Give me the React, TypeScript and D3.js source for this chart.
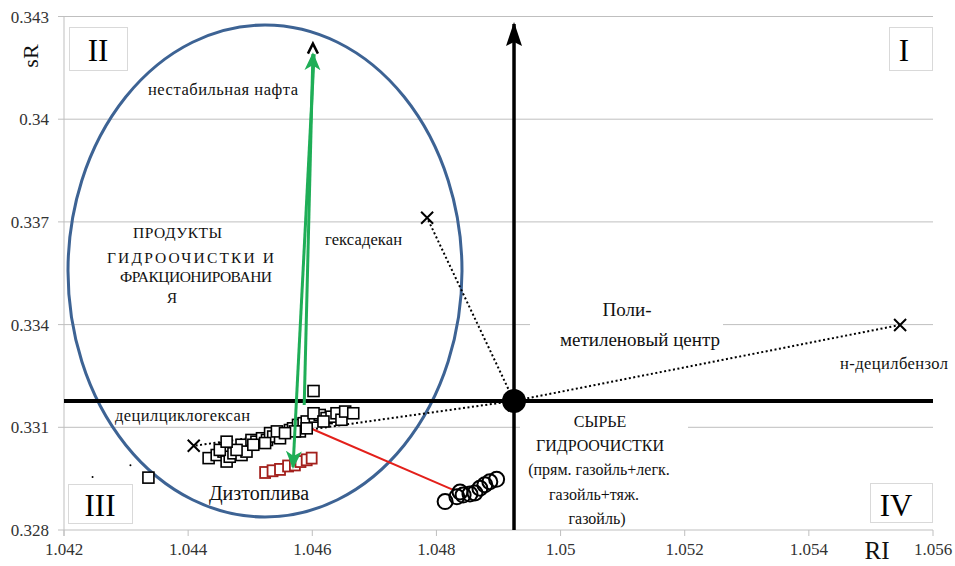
import React from "react";
import * as d3 from "d3";

const W = 955, H = 566;
const xTicks = [1.042, 1.044, 1.046, 1.048, 1.05, 1.052, 1.054, 1.056];
const yTicks = [0.328, 0.331, 0.334, 0.337, 0.34, 0.343];
const xTickLabels = ["1.042", "1.044", "1.046", "1.048", "1.05", "1.052", "1.054", "1.056"];
const yTickLabels = ["0.328", "0.331", "0.334", "0.337", "0.34", "0.343"];

// polymethylene center
const center: [number, number] = [1.04925, 0.33177];
// pure compounds (crosses)
const crosses: { name: string; ri: number; sr: number }[] = [
  { name: "гексадекан", ri: 1.04785, sr: 0.33712 },
  { name: "н-децилбензол", ri: 1.05547, sr: 0.33399 },
  { name: "децилциклогексан", ri: 1.04409, sr: 0.33046 },
];
const naphtha: [number, number] = [1.04601, 0.34212];

// hydrotreating & fractionation products (black squares)
const productsRI = [1.04433, 1.04446, 1.04457, 1.04462, 1.04459, 1.04467, 1.04473, 1.04486, 1.04486, 1.04494, 1.04502, 1.0451, 1.04519, 1.04527, 1.04532, 1.04537, 1.04548, 1.04543, 1.04564, 1.04569, 1.04577, 1.04586, 1.0458, 1.04591, 1.04604, 1.04612, 1.04623, 1.04631, 1.04639, 1.04647, 1.04653, 1.04666, 1.04602, 1.04618, 1.04591, 1.04572, 1.04556, 1.04524, 1.04505, 1.04478, 1.04451, 1.04462, 1.04602, 1.04336];
const productsSR = [0.3301, 0.33019, 0.33029, 0.33, 0.33039, 0.33014, 0.33024, 0.33049, 0.33019, 0.33029, 0.33063, 0.33058, 0.33068, 0.33063, 0.33083, 0.33073, 0.33068, 0.33088, 0.33092, 0.33097, 0.33107, 0.33112, 0.33088, 0.33117, 0.33131, 0.33136, 0.33127, 0.33131, 0.33141, 0.33122, 0.33146, 0.33141, 0.33141, 0.33117, 0.33097, 0.33088, 0.33083, 0.33054, 0.33049, 0.33034, 0.33034, 0.33058, 0.33206, 0.32953];
// diesel fuels (red squares)
const dieselRI = [1.04524, 1.04536, 1.04548, 1.04561, 1.04572, 1.04581, 1.04591, 1.04599];
const dieselSR = [0.32968, 0.32973, 0.32977, 0.32987, 0.3299, 0.33, 0.33005, 0.3301];
// hydrotreating feed (circles)
const feedRI = [1.04814, 1.04833, 1.04838, 1.04843, 1.04854, 1.04862, 1.0487, 1.04878, 1.04886, 1.04897];
const feedSR = [0.32883, 0.32897, 0.32911, 0.32902, 0.32905, 0.32908, 0.32922, 0.32932, 0.32941, 0.32948];
// stray dots
const dotsRI = [1.04246, 1.04307];
const dotsSR = [0.32955, 0.32989];

const redLine: [number, number][] = [[1.04596, 0.33098], [1.04827, 0.32917]];
const greenUp: [number, number][] = [[1.04587, 0.33165], [1.04601, 0.3419]];
const greenDown: [number, number][] = [[1.04603, 0.3419], [1.04569, 0.32984]];

const x = d3.scaleLinear().domain([1.042, 1.056]).range([64, 933]);
const y = d3.scaleLinear().domain([0.328, 0.343]).range([530, 16.5]);

const SERIF = "'Liberation Serif', 'DejaVu Serif', 'Times New Roman', serif";

export default function App() {
  const cx = x(center[0]), cy = y(center[1]);
  const line = d3.line<[number, number]>().x(d => x(d[0])).y(d => y(d[1]));
  return (
    <svg width={W} height={H} style={{ position: "absolute", left: 0, top: 0, background: "#fff", fontFamily: SERIF }}>
      <defs>
        <marker id="gArrow" viewBox="0 0 20 20" refX="16" refY="10" markerWidth="20" markerHeight="20" markerUnits="userSpaceOnUse" orient="auto">
          <path d="M0,2 L18,10 L0,18 L5,10 Z" fill="#1fae57" />
        </marker>
        <marker id="kArrow" viewBox="0 0 24 16" refX="22" refY="8" markerWidth="24" markerHeight="16" markerUnits="userSpaceOnUse" orient="auto">
          <path d="M0,0 L24,8 L0,16 L4,8 Z" fill="#000" />
        </marker>
      </defs>
      <rect width={W} height={H} fill="#fff" />
      <g style={{ fontFamily: SERIF }}>
        {/* grid */}
        {yTicks.map((t, i) => (
          <g key={i}>
            <line x1={58} x2={933} y1={y(t)} y2={y(t)} stroke="#bfbfbf" strokeWidth={1} />
            <text x={49} y={y(t) + 6} textAnchor="end" fontSize={17} fill="#333">{yTickLabels[i]}</text>
          </g>
        ))}
        <line x1={64} x2={64} y1={y(0.343)} y2={536} stroke="#bfbfbf" />
        {xTicks.map((t, i) => (
          <g key={i}>
            <line x1={x(t)} x2={x(t)} y1={530} y2={536} stroke="#bfbfbf" />
            <text x={x(t)} y={555} textAnchor="middle" fontSize={17} fill="#333">{xTickLabels[i]}</text>
          </g>
        ))}
        <text transform="translate(38,56) rotate(-90)" textAnchor="middle" fontSize={22} fill="#111">sR</text>
        <text x={877} y={559} textAnchor="middle" fontSize={25} fill="#111">RI</text>

        {/* white label backgrounds */}
        <rect x={530} y={298} width={193} height={54} fill="#fff" />
        <rect x={520} y={405} width={168} height={120} fill="#fff" />

        {/* ellipse */}
        <ellipse cx={265} cy={271} rx={197} ry={246} fill="none" stroke="#3d6394" strokeWidth={3} />

        {/* quadrant boxes */}
        <rect x={69.5} y={27.5} width={58} height={43} fill="#fff" stroke="#d9d9d9" />
        <text x={98} y={61} textAnchor="middle" fontSize={31}>II</text>
        <rect x={889.5} y={27.5} width={43} height={43} fill="#fff" stroke="#d9d9d9" />
        <text x={904} y={61} textAnchor="middle" fontSize={31}>I</text>
        <rect x={68.5} y={484.5} width={64} height={39} fill="#fff" stroke="#d9d9d9" />
        <text x={100} y={516} textAnchor="middle" fontSize={31}>III</text>
        <rect x={870.5} y={483.5} width={62} height={39} fill="#fff" stroke="#d9d9d9" />
        <text x={896} y={516} textAnchor="middle" fontSize={31}>IV</text>

        {/* thick axes through center */}
        <line x1={64} x2={933} y1={cy} y2={cy} stroke="#000" strokeWidth={4} />
        <line x1={cx} x2={cx} y1={530} y2={24} stroke="#000" strokeWidth={3.5} markerEnd="url(#kArrow)" />

        {/* dotted lines to pure compounds */}
        {crosses.map((c, i) => (
          <line key={i} x1={cx} y1={cy} x2={x(c.ri)} y2={y(c.sr)} stroke="#000" strokeWidth={2} strokeDasharray="2,2.5" />
        ))}

        {/* red line */}
        <path d={line(redLine) || ""} stroke="#e3201b" strokeWidth={2} fill="none" />

        {/* products squares */}
        {productsRI.map((r, i) => (
          <rect key={i} x={x(r) - 5.5} y={y(productsSR[i]) - 5.5} width={11} height={11} fill="#fff" stroke="#000" strokeWidth={1.6} />
        ))}
        {dieselRI.map((r, i) => (
          <rect key={i} x={x(r) - 5} y={y(dieselSR[i]) - 5.5} width={10} height={11} fill="#fff" stroke="#a3201c" strokeWidth={1.8} />
        ))}
        {feedRI.map((r, i) => (
          <circle key={i} cx={x(r)} cy={y(feedSR[i])} r={7.5} fill="none" stroke="#000" strokeWidth={2} />
        ))}
        {dotsRI.map((r, i) => (
          <circle key={i} cx={x(r)} cy={y(dotsSR[i])} r={1} fill="#000" />
        ))}

        {/* green arrows */}
        <path d={line(greenUp) || ""} stroke="#1fae57" strokeWidth={3} fill="none" markerEnd="url(#gArrow)" />
        <path d={line(greenDown) || ""} stroke="#1fae57" strokeWidth={3} fill="none" markerEnd="url(#gArrow)" />
        <path d={`M${x(naphtha[0]) - 5},${y(naphtha[1]) + 7} L${x(naphtha[0])},${y(naphtha[1]) - 3} L${x(naphtha[0]) + 5},${y(naphtha[1]) + 7}`} stroke="#000" strokeWidth={2.5} fill="none" />

        {/* crosses */}
        {crosses.map((c, i) => {
          const px = x(c.ri), py = y(c.sr);
          return (
            <path key={i} d={`M${px - 6},${py - 6} L${px + 6},${py + 6} M${px - 6},${py + 6} L${px + 6},${py - 6}`} stroke="#000" strokeWidth={2} />
          );
        })}

        {/* center point */}
        <circle cx={cx} cy={cy} r={12} fill="#000" />

        {/* labels */}
        <text x={148} y={95} fontSize={16.5} fill="#111" textLength={150} lengthAdjust="spacing">нестабильная нафта</text>
        <text x={325} y={245} fontSize={16.5} fill="#111" textLength={77} lengthAdjust="spacing">гексадекан</text>
        <text x={840} y={369} fontSize={16.5} fill="#111" textLength={108} lengthAdjust="spacing">н-децилбензол</text>
        <text x={115} y={421} fontSize={16.5} fill="#111" textLength={135} lengthAdjust="spacing">децилциклогексан</text>
        <g fontSize={15.5} fill="#111">
          <text x={133} y={238} textLength={89} lengthAdjust="spacing">ПРОДУКТЫ</text>
          <text x={107} y={263} textLength={167} lengthAdjust="spacing">ГИДРООЧИСТКИ И</text>
          <text x={120} y={282} textLength={152} lengthAdjust="spacing">ФРАКЦИОНИРОВАНИ</text>
          <text x={172} y={303} textAnchor="middle">Я</text>
        </g>
        <g fontSize={19} fill="#111" textAnchor="middle">
          <text x={627} y={316}>Поли-</text>
          <text x={640} y={346}>метиленовый центр</text>
        </g>
        <g fontSize={16} fill="#111" textAnchor="middle">
          <text x={600} y={427}>СЫРЬЕ</text>
          <text x={600} y={451}>ГИДРООЧИСТКИ</text>
          <text x={599} y={475}>(прям. газойль+легк.</text>
          <text x={594} y={500}>газойль+тяж.</text>
          <text x={597} y={524}>газойль)</text>
        </g>
        <text x={259} y={500} fontSize={20} fill="#111" textAnchor="middle">Дизтоплива</text>
      </g>
    </svg>
  );
}
